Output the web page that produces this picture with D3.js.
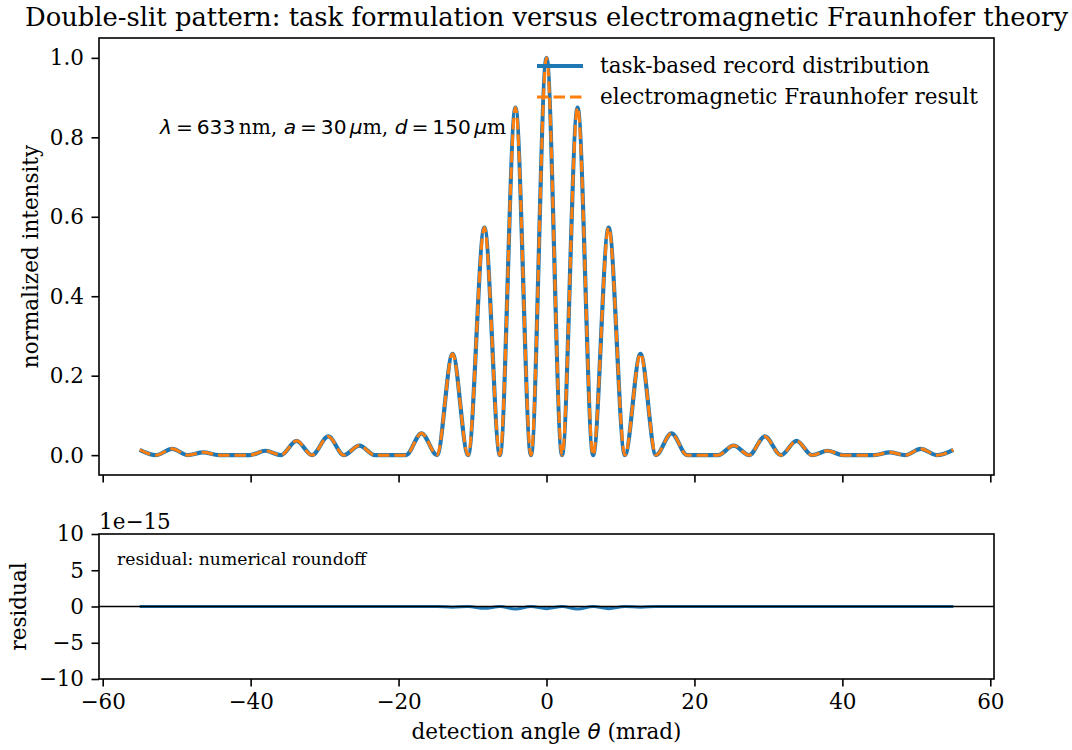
<!DOCTYPE html>
<html>
<head>
<meta charset="utf-8">
<script src="https://cdn.jsdelivr.net/npm/d3@7"></script>
<style>
  body { margin: 0; background: #fff; }
  text { white-space: pre; }
</style>
</head>
<body>
<script>
// ---- data ----
const thetaMrad = [-55, -52.8, -50.6, -48.5, -46.4, -44.3, -42.2, -40.1, -38.0, -35.9, -33.8, -31.7, -29.5, -27.4,
  -25.3, -23.2, -21.1, -19.0, -16.9, -14.8, -12.7, -10.6, -8.4, -6.3, -4.2, -2.1, 0,
  2.1, 4.2, 6.3, 8.4, 10.6, 12.7, 14.8, 16.9, 19.0, 21.1, 23.2, 25.3, 27.4, 29.5, 31.7,
  33.8, 35.9, 38.0, 40.1, 42.2, 44.3, 46.4, 48.5, 50.6, 52.8, 55];
const intensityTask = [0.0135, 0, 0.016, 0, 0.007, 0, 0, 0, 0.011, 0, 0.036, 0, 0.047, 0,
  0.024, 0, 0, 0, 0.055, 0, 0.255, 0, 0.573, 0, 0.875, 0, 1.0,
  0, 0.875, 0, 0.573, 0, 0.255, 0, 0.055, 0, 0, 0, 0.024, 0, 0.047, 0,
  0.036, 0, 0.011, 0, 0, 0, 0.007, 0, 0.016, 0, 0.0135];
const intensityEM = [0.0135, 0, 0.016, 0, 0.007, 0, 0, 0, 0.011, 0, 0.036, 0, 0.047, 0,
  0.024, 0, 0, 0, 0.055, 0, 0.255, 0, 0.573, 0, 0.875, 0, 1.0,
  0, 0.875, 0, 0.573, 0, 0.255, 0, 0.055, 0, 0, 0, 0.024, 0, 0.047, 0,
  0.036, 0, 0.011, 0, 0, 0, 0.007, 0, 0.016, 0, 0.0135];
// residual in units of 1e-15
const residual = [0, 0, 0, 0, 0, 0, 0, 0, 0, 0, 0, 0, 0, 0,
  0, 0, 0, 0, 0, 0, -0.1, 0, -0.25, 0, -0.35, 0, -0.3,
  0, -0.35, 0, -0.3, 0, -0.1, 0, 0, 0, 0, 0, 0, 0, 0, 0,
  0, 0, 0, 0, 0, 0, 0, 0, 0, 0, 0];
const xTicks = [-60, -40, -20, 0, 20, 40, 60];
const yTicksTop = [0.0, 0.2, 0.4, 0.6, 0.8, 1.0];
const yTicksBottom = [-10, -5, 0, 5, 10];
const seriesNames = ["task-based record distribution", "electromagnetic Fraunhofer result"];
const titleText = "Double-slit pattern: task formulation versus electromagnetic Fraunhofer theory";

// ---- layout ----
const W = 1072, H = 750;
const serif = "DejaVu Serif", sans = "DejaVu Sans";
const FS = 21.5;
const ax = { left: 99, right: 994 };
const panelT = { y0: 38, y1: 475 };
const panelB = { y0: 534, y1: 679 };
const blue = "#1f77b4", orange = "#ff7f0e";
const tickLen = 7.5, tickPad = 7.5, spineW = 1.6;

const svg = d3.select("body").append("svg").attr("width", W).attr("height", H)
  .style("font-family", serif);

const x = d3.scaleLinear().domain([-60.5, 60.5]).range([ax.left, ax.right]);
const yT = d3.scaleLinear().domain([-0.05, 1.05]).range([panelT.y1, panelT.y0]);
const yB = d3.scaleLinear().domain([-10, 10]).range([panelB.y1, panelB.y0]);
const minus = s => String(s).replace("-", "\u2212");

const defs = svg.append("defs");
defs.append("clipPath").attr("id", "clipT").append("rect")
  .attr("x", ax.left).attr("y", panelT.y0).attr("width", ax.right - ax.left).attr("height", panelT.y1 - panelT.y0);
defs.append("clipPath").attr("id", "clipB").append("rect")
  .attr("x", ax.left).attr("y", panelB.y0).attr("width", ax.right - ax.left).attr("height", panelB.y1 - panelB.y0);

function styleAxis(g) {
  g.select(".domain").remove();
  g.selectAll(".tick line").attr("stroke", "#000").attr("stroke-width", spineW);
  g.selectAll(".tick text").attr("fill", "#000").style("font-family", serif).style("font-size", FS + "px");
}

// ---- top panel ----
const idx = d3.range(thetaMrad.length);
const lineT = arr => d3.line().x(i => x(thetaMrad[i])).y(i => yT(arr[i])).curve(d3.curveMonotoneX);

const gT = svg.append("g").attr("clip-path", "url(#clipT)");
gT.append("path").datum(idx).attr("d", lineT(intensityTask))
  .attr("fill", "none").attr("stroke", blue).attr("stroke-width", 4.2).attr("stroke-linejoin", "round");
gT.append("path").datum(idx).attr("d", lineT(intensityEM))
  .attr("fill", "none").attr("stroke", orange).attr("stroke-width", 3).attr("stroke-dasharray", "11.5,5");

svg.append("g").attr("transform", `translate(0,${panelT.y1})`)
  .call(d3.axisBottom(x).tickValues(xTicks).tickSize(tickLen).tickPadding(tickPad).tickFormat(""))
  .call(styleAxis);
svg.append("g").attr("transform", `translate(${ax.left},0)`)
  .call(d3.axisLeft(yT).tickValues(yTicksTop).tickSize(tickLen).tickPadding(tickPad).tickFormat(d3.format(".1f")))
  .call(styleAxis);

svg.append("rect").attr("x", ax.left).attr("y", panelT.y0).attr("width", ax.right - ax.left)
  .attr("height", panelT.y1 - panelT.y0).attr("fill", "none").attr("stroke", "#000").attr("stroke-width", spineW);

// title
svg.append("text").attr("x", (ax.left + ax.right) / 2).attr("y", 26).attr("text-anchor", "middle")
  .style("font-size", "25.8px").text(titleText);

// y label
svg.append("text").attr("transform", `translate(38,${(panelT.y0 + panelT.y1) / 2}) rotate(-90)`)
  .attr("text-anchor", "middle").style("font-size", FS + "px").text("normalized intensity");

// annotation with math (mathtext-like spacing)
const AFS = 20.2;
const relSp = 0.195 * AFS, thin = 0.166 * AFS;
const ann = svg.append("text").attr("x", 160).attr("y", 134).style("font-size", AFS + "px");
const parts = [
  ["λ", sans, "italic", 0], ["=", sans, "normal", relSp], ["633", sans, "normal", relSp], ["nm, ", serif, "normal", thin],
  ["a", sans, "italic", 0], ["=", sans, "normal", relSp], ["30", sans, "normal", relSp], ["μ", sans, "italic", thin], ["m, ", serif, "normal", 0],
  ["d", sans, "italic", 0], ["=", sans, "normal", relSp], ["150", sans, "normal", relSp], ["μ", sans, "italic", thin], ["m", serif, "normal", 0]
];
parts.forEach(p => ann.append("tspan").attr("dx", p[3]).style("font-family", p[1]).style("font-style", p[2]).text(p[0]));

// legend
const legX0 = 537, legX1 = 583, legTextX = 600;
const legY = [66, 97];
svg.append("line").attr("x1", legX0).attr("x2", legX1).attr("y1", legY[0]).attr("y2", legY[0])
  .attr("stroke", blue).attr("stroke-width", 4.2);
svg.append("line").attr("x1", legX0).attr("x2", legX1).attr("y1", legY[1]).attr("y2", legY[1])
  .attr("stroke", orange).attr("stroke-width", 3).attr("stroke-dasharray", "11.5,5");
seriesNames.forEach((n, i) => svg.append("text").attr("x", legTextX).attr("y", legY[i] + 7)
  .style("font-size", FS + "px").text(n));

// ---- bottom panel ----
const lineB = d3.line().x(i => x(thetaMrad[i])).y(i => yB(residual[i])).curve(d3.curveMonotoneX);
const gB = svg.append("g").attr("clip-path", "url(#clipB)");
gB.append("path").datum(idx).attr("d", lineB)
  .attr("fill", "none").attr("stroke", blue).attr("stroke-width", 3);
gB.append("line").attr("x1", ax.left).attr("x2", ax.right).attr("y1", yB(0)).attr("y2", yB(0))
  .attr("stroke", "#000").attr("stroke-width", 1.6);

svg.append("g").attr("transform", `translate(0,${panelB.y1})`)
  .call(d3.axisBottom(x).tickValues(xTicks).tickSize(tickLen).tickPadding(tickPad).tickFormat(minus))
  .call(styleAxis);
svg.append("g").attr("transform", `translate(${ax.left},0)`)
  .call(d3.axisLeft(yB).tickValues(yTicksBottom).tickSize(tickLen).tickPadding(tickPad).tickFormat(minus))
  .call(styleAxis);
svg.append("rect").attr("x", ax.left).attr("y", panelB.y0).attr("width", ax.right - ax.left)
  .attr("height", panelB.y1 - panelB.y0).attr("fill", "none").attr("stroke", "#000").attr("stroke-width", spineW);

svg.append("text").attr("x", ax.left).attr("y", 529).style("font-size", FS + "px").text("1e\u221215");
svg.append("text").attr("x", 117).attr("y", 565).style("font-size", "17.2px").text("residual: numerical roundoff");
svg.append("text").attr("transform", `translate(26,${(panelB.y0 + panelB.y1) / 2}) rotate(-90)`)
  .attr("text-anchor", "middle").style("font-size", FS + "px").text("residual");

const xl = svg.append("text").attr("x", (ax.left + ax.right) / 2).attr("y", 739)
  .attr("text-anchor", "middle").style("font-size", FS + "px");
xl.append("tspan").text("detection angle ");
xl.append("tspan").style("font-family", sans).style("font-style", "italic").text("θ");
xl.append("tspan").text(" (mrad)");
</script>
</body>
</html>
